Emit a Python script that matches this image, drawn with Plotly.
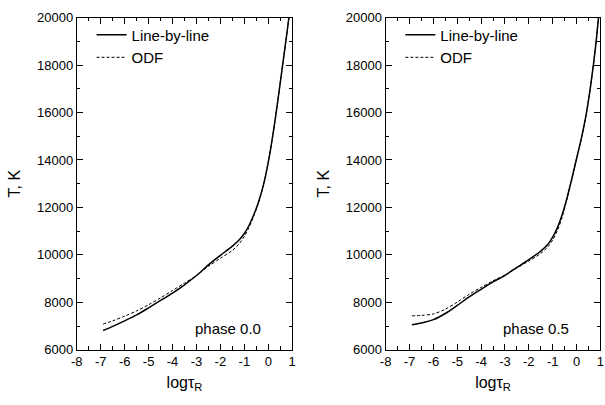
import plotly.graph_objects as go
from plotly.subplots import make_subplots

# phase 0.0
x0_lbl = [-6.9, -6.5, -6.0, -5.5, -5.0, -4.5, -4.0, -3.5, -3.0, -2.5, -2.0, -1.5, -1.2, -1.0, -0.8, -0.6, -0.4, -0.2, 0.0, 0.2, 0.4, 0.6, 0.8, 0.9]
t0_lbl = [6815, 6990, 7220, 7470, 7770, 8080, 8390, 8740, 9130, 9580, 9980, 10371, 10650, 10900, 11250, 11700, 12250, 12950, 13900, 15100, 16500, 18000, 19500, 20300]
x0_odf = [-6.9, -6.5, -6.0, -5.5, -5.0, -4.5, -4.0, -3.5, -3.0, -2.5, -2.0, -1.5, -1.2, -1.0, -0.8, -0.6, -0.4, -0.2, 0.0, 0.2, 0.4, 0.6, 0.8, 0.9]
t0_odf = [7085, 7220, 7420, 7640, 7900, 8190, 8500, 8810, 9130, 9520, 9860, 10190, 10490, 10780, 11170, 11650, 12220, 12950, 13900, 15100, 16500, 18000, 19500, 20300]

# phase 0.5
x5_lbl = [-6.9, -6.5, -6.0, -5.5, -5.0, -4.5, -4.0, -3.5, -3.0, -2.5, -2.0, -1.5, -1.2, -1.0, -0.8, -0.6, -0.4, -0.2, 0.0, 0.2, 0.4, 0.6, 0.8, 0.95]
t5_lbl = [7055, 7130, 7270, 7530, 7870, 8230, 8550, 8860, 9140, 9470, 9800, 10160, 10450, 10750, 11150, 11700, 12400, 13200, 14050, 14900, 15900, 17200, 18800, 20300]
x5_odf = [-6.9, -6.5, -6.0, -5.5, -5.0, -4.5, -4.0, -3.5, -3.0, -2.5, -2.0, -1.5, -1.2, -1.0, -0.8, -0.6, -0.4, -0.2, 0.0, 0.2, 0.4, 0.6, 0.8, 0.95]
t5_odf = [7430, 7450, 7510, 7710, 8010, 8340, 8630, 8910, 9150, 9450, 9740, 10060, 10340, 10630, 11030, 11600, 12350, 13200, 14050, 14900, 15900, 17200, 18800, 20300]

series_names = ["Line-by-line", "ODF"]
panel_labels = ["phase 0.0", "phase 0.5"]
x_tickvals = [-8, -7, -6, -5, -4, -3, -2, -1, 0, 1]
x_ticktext = ["-8", "-7", "-6", "-5", "-4", "-3", "-2", "-1", "0", "1"]
y_tickvals = [6000, 8000, 10000, 12000, 14000, 16000, 18000, 20000]
y_ticktext = ["6000", "8000", "10000", "12000", "14000", "16000", "18000", "20000"]
x_title = "logτ<sub>R</sub>"
y_title = "T, K"

FONT = "Liberation Sans, Arial, sans-serif"

fig = make_subplots(rows=1, cols=2)

solid = dict(color="black", width=1.5, shape="spline", smoothing=0.8)
dashed = dict(color="black", width=1, dash="3px,2px", shape="spline", smoothing=0.8)

fig.add_trace(go.Scatter(x=x0_lbl, y=t0_lbl, mode="lines", name=series_names[0],
                         line=solid, legend="legend"), row=1, col=1)
fig.add_trace(go.Scatter(x=x0_odf, y=t0_odf, mode="lines", name=series_names[1],
                         line=dashed, legend="legend"), row=1, col=1)
fig.add_trace(go.Scatter(x=x5_lbl, y=t5_lbl, mode="lines", name=series_names[0],
                         line=solid, legend="legend2"), row=1, col=2)
fig.add_trace(go.Scatter(x=x5_odf, y=t5_odf, mode="lines", name=series_names[1],
                         line=dashed, legend="legend2"), row=1, col=2)

xdoms = [[72/605, 291/605], [386/605, 0.999]]
ydom = [(405-356)/405, (405-11)/405]

for i, ax in enumerate(["xaxis", "xaxis2"]):
    fig.layout[ax].update(
        domain=xdoms[i], range=[-8, 1], tickmode="array", tickvals=x_tickvals, ticktext=x_ticktext,
        showline=True, linecolor="black", linewidth=1, mirror="allticks",
        ticks="inside", ticklen=6, tickwidth=1.2, tickcolor="black", showgrid=False, zeroline=False,
        minor=dict(ticks="inside", ticklen=3.5, tickwidth=1.2, dtick=0.5, tick0=0, tickcolor="black", showgrid=False),
        tickfont=dict(family=FONT, size=13, color="black"),
        title=dict(text=x_title, font=dict(family=FONT, size=16, color="black"), standoff=8),
    )
for i, ax in enumerate(["yaxis", "yaxis2"]):
    fig.layout[ax].update(
        domain=ydom, range=[6000, 20000], tickmode="array", tickvals=y_tickvals, ticktext=y_ticktext,
        showline=True, linecolor="black", linewidth=1, mirror="allticks",
        ticks="inside", ticklen=6, tickwidth=1.2, tickcolor="black", showgrid=False, zeroline=False,
        minor=dict(ticks="inside", ticklen=3.5, tickwidth=1.2, dtick=1000, tick0=0, tickcolor="black", showgrid=False),
        tickfont=dict(family=FONT, size=13, color="black"),
        title=dict(text=y_title, font=dict(family=FONT, size=16, color="black"), standoff=12),
    )

for i, (xr, yr) in enumerate([("x", "y"), ("x2", "y2")]):
    fig.add_annotation(x=-1.7, y=6900, xref=xr, yref=yr, text=panel_labels[i], showarrow=False,
                       font=dict(family=FONT, size=15, color="black"))

leg = dict(bgcolor="rgba(0,0,0,0)", borderwidth=0, font=dict(family=FONT, size=15, color="black"),
           xanchor="left", yanchor="top", tracegroupgap=0, itemwidth=30)
fig.update_layout(
    legend=dict(leg, x=87/605, y=(405-12)/405),
    legend2=dict(leg, x=401/605, y=(405-12)/405),
    width=605, height=405, margin=dict(l=0, r=0, t=0, b=0),
    plot_bgcolor="white", paper_bgcolor="white", showlegend=True,
)

fig.write_html("out.html")
